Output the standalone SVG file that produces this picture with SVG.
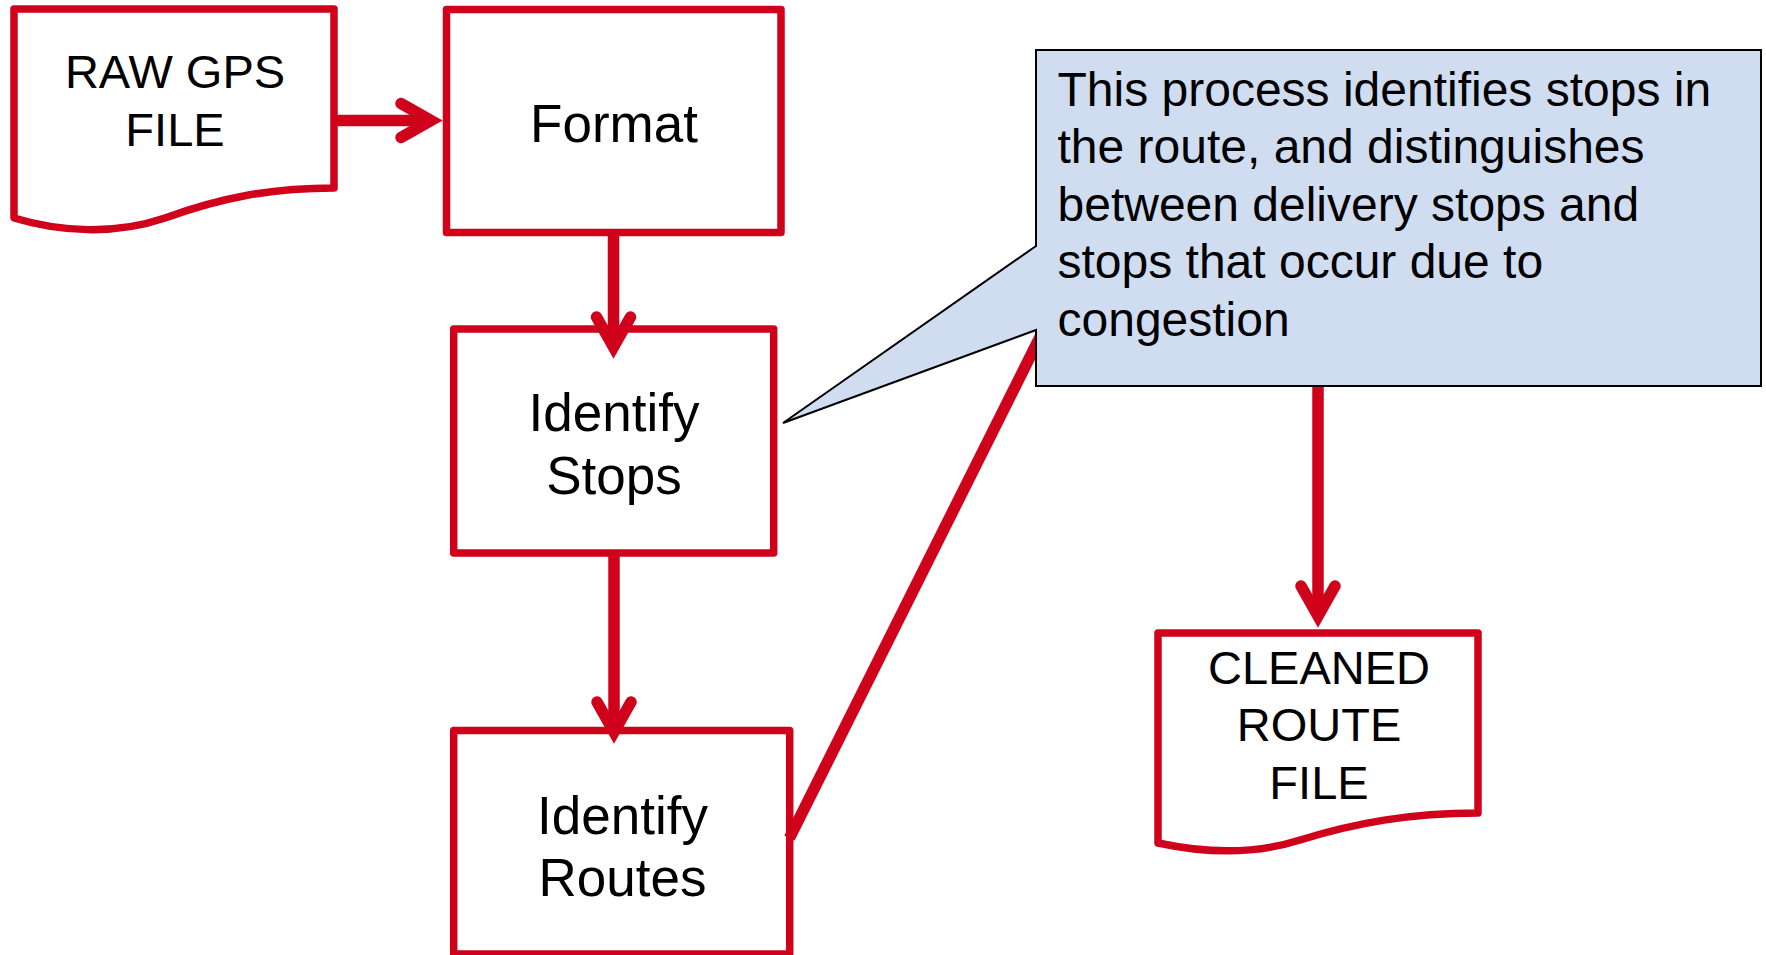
<svg xmlns="http://www.w3.org/2000/svg" width="1766" height="955" viewBox="0 0 1766 955">
<style>
.box{fill:#ffffff;stroke:#D0021B;stroke-width:7.5;stroke-linejoin:round}
.lbl{font-family:"Liberation Sans",Arial,sans-serif;fill:#000000;text-anchor:middle}
.conn{fill:none;stroke:#D0021B;stroke-width:11.5;stroke-linejoin:miter}
.note{fill:#D0DDF0;stroke:#000000;stroke-width:2}
.ntxt{font-family:"Liberation Sans",Arial,sans-serif;fill:#000000;font-size:48px}
</style>
<defs>
<marker id="chev" markerUnits="userSpaceOnUse" viewBox="-40 -30 50 60" markerWidth="50" markerHeight="60" refX="0" refY="0" orient="auto" overflow="visible">
<path d="M-30,-17 L0,0 L-30,17" fill="none" stroke="#D0021B" stroke-width="11.5" stroke-linecap="round" stroke-linejoin="miter"/>
</marker>
</defs>
<rect width="1766" height="955" fill="#ffffff"/>
<g id="raw-gps-file">
<path class="box" d="M14,9 H334 V188 C270,188 220,198 165,218 C115,235 60,232 14,218 Z"/>
<text class="lbl" font-size="47" x="175" y="87.5">RAW GPS</text>
<text class="lbl" font-size="47" x="175" y="145.5">FILE</text>
</g>
<g id="format">
<rect class="box" x="446.5" y="9.5" width="334.5" height="223"/>
<text class="lbl" font-size="53" x="614" y="142">Format</text>
</g>
<g id="identify-stops">
<rect class="box" x="453.7" y="329" width="320" height="224"/>
<text class="lbl" font-size="53" x="614" y="430.5">Identify</text>
<text class="lbl" font-size="53" x="614" y="494">Stops</text>
</g>
<g id="identify-routes">
<rect class="box" x="453.7" y="730.5" width="336" height="223.5"/>
<text class="lbl" font-size="53" x="622.5" y="834">Identify</text>
<text class="lbl" font-size="53" x="622.5" y="896">Routes</text>
</g>
<g id="cleaned-route-file">
<path class="box" d="M1158,633 H1478 V813 C1410,813 1355,823 1300,840 C1250,856 1200,852 1158,843 Z"/>
<text class="lbl" font-size="47" x="1319" y="683.5">CLEANED</text>
<text class="lbl" font-size="47" x="1319" y="741">ROUTE</text>
<text class="lbl" font-size="47" x="1319" y="798.5">FILE</text>
</g>
<g id="connectors">
<path class="conn" d="M334,120.5 H431" marker-end="url(#chev)"/>
<path class="conn" d="M613.5,232 V347" marker-end="url(#chev)"/>
<path class="conn" d="M614,553 V732" marker-end="url(#chev)"/>
<path class="conn" d="M789.5,838 L1058.5,300 H1318 V616" marker-end="url(#chev)"/>
</g>
<g id="callout">
<path class="note" d="M1036,50 H1761 V386 H1036 V330 L783,423 L1036,246 Z"/>
<text class="ntxt" x="1057.5" y="105.5">This process identifies stops in</text>
<text class="ntxt" x="1057.5" y="163">the route, and distinguishes</text>
<text class="ntxt" x="1057.5" y="220.5">between delivery stops and</text>
<text class="ntxt" x="1057.5" y="278">stops that occur due to</text>
<text class="ntxt" x="1057.5" y="336">congestion</text>
</g>
</svg>
